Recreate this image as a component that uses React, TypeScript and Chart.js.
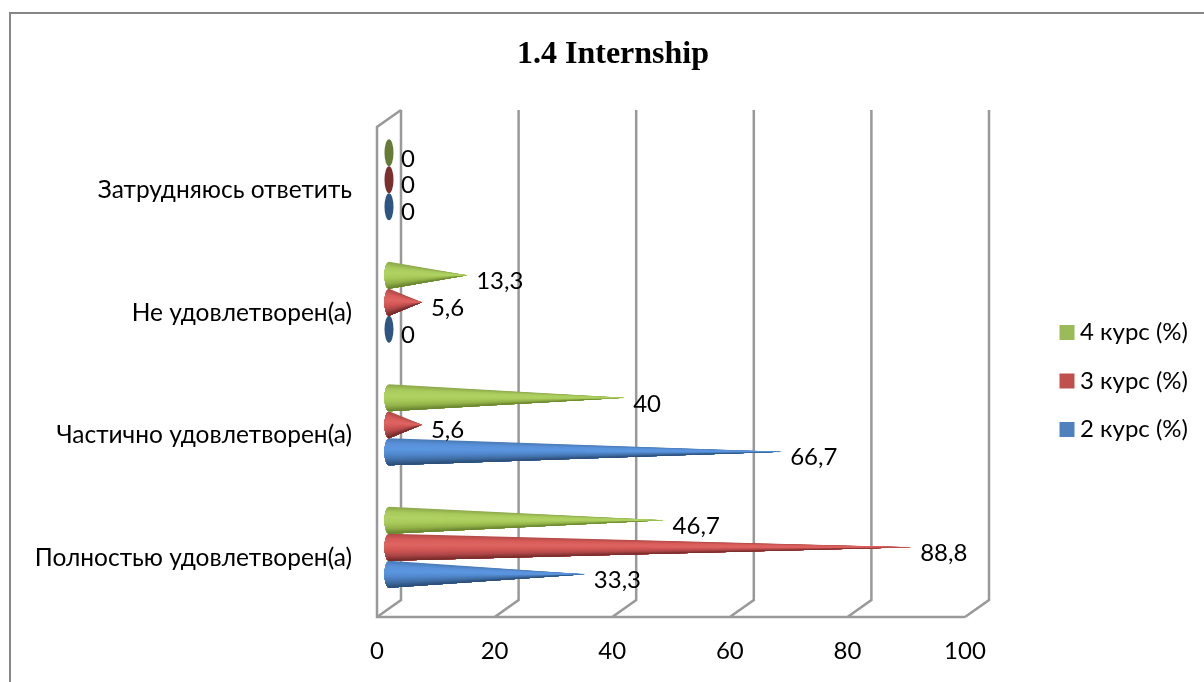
import React, { useEffect, useRef } from "react";
import { Chart, registerables } from "chart.js";

Chart.register(...registerables);

const categories = [
  "Затрудняюсь ответить",
  "Не удовлетворен(а)",
  "Частично удовлетворен(а)",
  "Полностью удовлетворен(а)",
];
const course4 = [0, 13.3, 40, 46.7];
const course3 = [0, 5.6, 5.6, 88.8];
const course2 = [0, 0, 66.7, 33.3];
const seriesNames = ["4 курс (%)", "3 курс (%)", "2 курс (%)"];
const legendColors = ["#9BBB59", "#C0504D", "#4F81BD"];
const titleText = "1.4 Internship";

const FONT = "Lato, 'Open Sans', sans-serif";
const FONT_SIZE = 24;
const GRID = "#999999";
const DEPTH_X = 24;
const DEPTH_Y = 17;

// shading across the cone: from its upper edge to its lower edge
const shades: string[][] = [
  ["#8CA84C", "#A9CB5C", "#B0D264", "#A8CA5A", "#94B249", "#66822F"],
  ["#B04A47", "#D85C59", "#DE6663", "#D25855", "#B0484A", "#722A28"],
  ["#4A79B4", "#5A92DA", "#5C97E0", "#5289CE", "#4270A8", "#2A4C74"],
];
const zeroColors = ["#667B35", "#7C302E", "#2F5582"];

function parseHex(c: string) {
  return [1, 3, 5].map((i) => parseInt(c.slice(i, i + 2), 16));
}
function shadeAt(stops: string[], t: number, alpha = 1) {
  const p = t * (stops.length - 1);
  const i = Math.min(Math.floor(p), stops.length - 2);
  const f = p - i;
  const a = parseHex(stops[i]);
  const b = parseHex(stops[i + 1]);
  const m = a.map((v, k) => Math.round(v + (b[k] - v) * f));
  return `rgba(${m[0]},${m[1]},${m[2]},${alpha})`;
}

const conePlugin = {
  id: "cones",
  beforeDraw(chart: any) {
    const { ctx, width, height } = chart;
    ctx.save();
    ctx.strokeStyle = "#868686";
    ctx.lineWidth = 2;
    ctx.beginPath();
    ctx.moveTo(10, height);
    ctx.lineTo(10, 13);
    ctx.lineTo(width, 13);
    ctx.stroke();
    ctx.restore();
  },
  beforeDatasetsDraw(chart: any) {
    const { ctx, chartArea } = chart;
    const xs = chart.scales.x;
    const { top, bottom, left, right } = chartArea;
    ctx.save();
    ctx.strokeStyle = GRID;
    ctx.lineWidth = 2.5;
    ctx.lineJoin = "miter";
    ctx.beginPath();
    ctx.moveTo(left + DEPTH_X, top - DEPTH_Y);
    ctx.lineTo(left, top);
    ctx.lineTo(left, bottom);
    ctx.lineTo(right, bottom);
    xs.ticks.forEach((t: any) => {
      const x = xs.getPixelForValue(t.value);
      ctx.moveTo(x, bottom);
      ctx.lineTo(x + DEPTH_X, bottom - DEPTH_Y);
      ctx.lineTo(x + DEPTH_X, top - DEPTH_Y);
    });
    ctx.stroke();
    ctx.restore();
  },
  beforeDatasetDraw(chart: any, args: any) {
    const { ctx } = chart;
    const meta = args.meta;
    const stops = shades[args.index];
    const n = 40;
    const rx = 4.5;
    ctx.save();
    meta.data.forEach((el: any) => {
      const cx = el.base + DEPTH_X / 2;
      const tip = el.x + DEPTH_X / 2;
      const cy = el.y - DEPTH_Y / 2;
      const ry = el.height / 2;
      if (tip - cx < 1) {
        ctx.fillStyle = zeroColors[args.index];
        ctx.beginPath();
        ctx.ellipse(cx, cy, rx, ry, 0, 0, Math.PI * 2);
        ctx.fill();
        return;
      }
      const rim = (t: number) => [cx - rx * Math.sqrt(Math.max(0, 1 - t * t)), cy + t * ry];
      for (let i = 0; i < n; i++) {
        ctx.fillStyle = shadeAt(stops, (i + 0.5) / n);
        ctx.beginPath();
        ctx.moveTo(tip, cy);
        for (let k = i; k <= n; k++) {
          const [px, py] = rim(-1 + (2 * k) / n);
          ctx.lineTo(px, py);
        }
        ctx.closePath();
        ctx.fill();
      }
      // spine: the thin end of the cone keeps its mid colour and fades out at the tip
      const start = tip - (tip - cx) * 0.5;
      const g = ctx.createLinearGradient(start, 0, tip, 0);
      g.addColorStop(0, shadeAt(stops, 0.45, 0.9));
      g.addColorStop(0.8, shadeAt(stops, 0.45, 0.9));
      g.addColorStop(1, shadeAt(stops, 0.45, 0.25));
      ctx.strokeStyle = g;
      ctx.lineWidth = 1.2;
      ctx.beginPath();
      ctx.moveTo(start, cy);
      ctx.lineTo(tip, cy);
      ctx.stroke();
    });
    ctx.restore();
    return false;
  },
  afterDatasetsDraw(chart: any) {
    const { ctx } = chart;
    ctx.save();
    ctx.fillStyle = "#000";
    ctx.font = `${FONT_SIZE}px ${FONT}`;
    ctx.textAlign = "left";
    ctx.textBaseline = "middle";
    chart.data.datasets.forEach((ds: any, i: number) => {
      chart.getDatasetMeta(i).data.forEach((el: any, j: number) => {
        const label = String(ds.data[j]).replace(".", ",");
        ctx.fillText(label, el.x + DEPTH_X / 2 + (ds.data[j] === 0 ? 12 : 9), el.y - DEPTH_Y / 2 + 6);
      });
    });
    ctx.restore();
  },
  afterLayout(chart: any) {
    const lg = chart.legend;
    lg.left = 1035;
    lg.right = 1188;
    lg.top = 296;
    lg.bottom = 680;
    const tb = chart.titleBlock;
    tb.left = 0;
    tb.right = 1226;
  },
};

export default function App() {
  const ref = useRef<HTMLCanvasElement>(null);
  useEffect(() => {
    const chart = new Chart(ref.current as HTMLCanvasElement, {
      type: "bar",
      data: {
        labels: categories,
        datasets: [course4, course3, course2].map((d, i) => ({
          label: seriesNames[i],
          data: d,
          backgroundColor: legendColors[i],
          borderWidth: 0,
          categoryPercentage: 0.66,
          barPercentage: 1,
        })),
      },
      options: {
        indexAxis: "y",
        animation: false,
        responsive: false,
        layout: { padding: { left: 0, right: 239, top: 0, bottom: 0 } },
        scales: {
          x: {
            min: 0,
            max: 100,
            grid: { display: false, drawTicks: false },
            border: { display: false },
            ticks: {
              stepSize: 20,
              maxRotation: 0,
              padding: 20,
              color: "#000",
              font: { family: FONT, size: FONT_SIZE },
            },
            afterFit: (s: any) => {
              s.height = 65;
            },
          },
          y: {
            grid: { display: false, drawTicks: false },
            border: { display: false },
            ticks: {
              padding: 25,
              autoSkip: false,
              labelOffset: 2,
              color: "#000",
              font: { family: FONT, size: 24.5 },
            },
            afterFit: (s: any) => {
              s.width = 377;
            },
          },
        },
        plugins: {
          tooltip: { enabled: false },
          title: {
            display: true,
            text: titleText,
            color: "#000",
            font: { family: "'Liberation Serif', serif", size: 32, weight: "bold" },
            padding: { top: 36, bottom: 52.6 },
          },
          legend: {
            display: true,
            position: "chartArea",
            align: "start",
            labels: {
              boxWidth: 15,
              boxHeight: 15,
              padding: 24.5,
              color: "#000",
              textAlign: "right",
              font: { family: FONT, size: FONT_SIZE },
            },
          },
        },
      },
      plugins: [conePlugin],
    } as any);
    return () => chart.destroy();
  }, []);
  return (
    <div style={{ position: "absolute", left: 0, top: 0, width: 1204, height: 682, overflow: "hidden", background: "#fff" }}>
      <canvas ref={ref} width={1204} height={682} style={{ display: "block" }} />
    </div>
  );
}
